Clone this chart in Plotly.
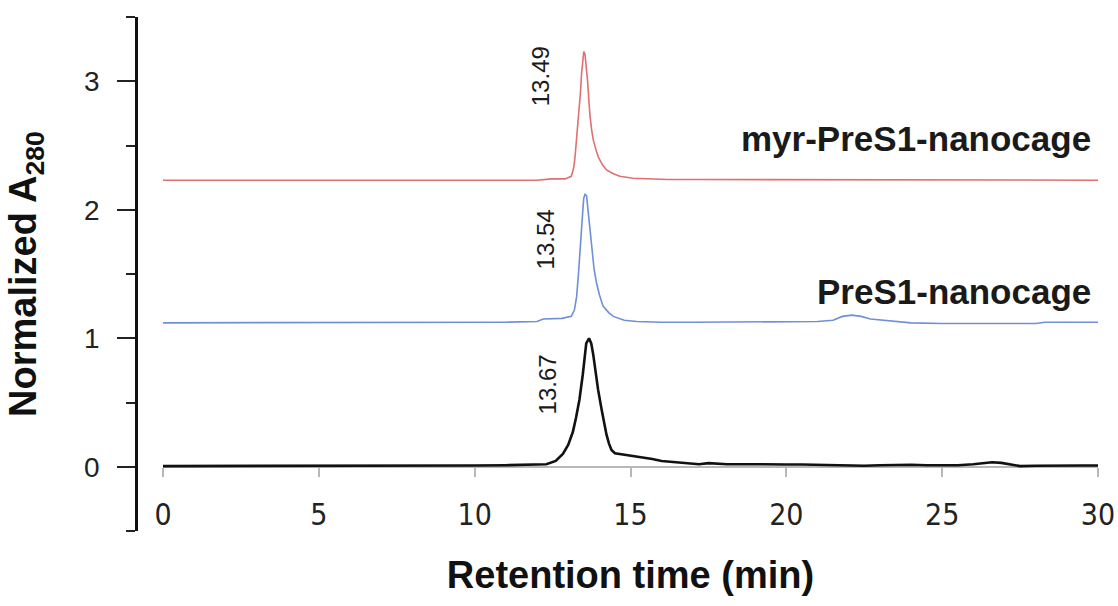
import plotly.graph_objects as go

# ---------------- data ----------------
t_ctrl = [0, 1, 2, 3, 4, 5, 6, 7, 8, 9, 10, 11,
          11.8, 12.3, 12.6, 12.83, 13.0, 13.15, 13.25, 13.36, 13.47, 13.53, 13.58, 13.67,
          13.74, 13.8, 13.86, 13.96, 14.07, 14.15, 14.23, 14.31, 14.39, 14.5, 14.8, 15.1,
          15.4, 15.7, 16.0, 16.3, 16.6, 16.9, 17.2, 17.5, 17.8, 18.1, 18.5,
          19, 19.5, 20, 20.5, 21, 21.5, 22, 22.5, 23, 23.5, 24, 24.5, 25, 25.5, 26,
          26.3, 26.6, 26.9, 27.2, 27.5, 28, 28.5, 29, 29.5, 30]
v_ctrl = [0.005, 0.005, 0.008, 0.008, 0.008, 0.008, 0.008, 0.008, 0.008, 0.01, 0.01, 0.012,
          0.015, 0.02, 0.045, 0.1, 0.17, 0.27, 0.38, 0.52, 0.72, 0.86, 0.96, 1.0,
          0.96, 0.88, 0.76, 0.6, 0.45, 0.34, 0.25, 0.18, 0.13, 0.105, 0.095, 0.085,
          0.075, 0.06, 0.045, 0.04, 0.035, 0.025, 0.02, 0.028, 0.022, 0.02, 0.02,
          0.018, 0.018, 0.018, 0.018, 0.015, 0.01, 0.008, 0.008, 0.012, 0.015, 0.015, 0.012, 0.01, 0.012, 0.02,
          0.03, 0.035, 0.03, 0.015, 0.005, 0.008, 0.01, 0.01, 0.01, 0.01]

t_pres1 = [0, 2, 4, 6, 8, 10, 11, 12,
           12.2, 12.8, 13.1, 13.2, 13.27, 13.33, 13.38, 13.42, 13.46, 13.5, 13.54, 13.59,
           13.65, 13.7, 13.75, 13.83, 13.91, 14.0, 14.12, 14.3, 14.45, 14.8, 15.2,
           16, 17, 18, 19, 20, 21,
           21.5, 21.8, 22.1, 22.4, 22.7, 23.1, 23.5,
           24, 25, 26, 27, 28, 28.3, 29, 30]
v_pres1 = [0.0, 0.0, 0.0, 0.005, 0.005, 0.005, 0.005, 0.01,
           0.03, 0.035, 0.05, 0.1, 0.2, 0.38, 0.53, 0.7, 0.84, 0.97, 1.0, 0.99,
           0.84, 0.7, 0.57, 0.42, 0.31, 0.22, 0.13, 0.08, 0.05, 0.02, 0.01,
           0.005, 0.005, 0.005, 0.005, 0.005, 0.01,
           0.02, 0.05, 0.06, 0.05, 0.03, 0.02, 0.01,
           0.0, -0.005, -0.005, -0.005, -0.005, 0.005, 0.005, 0.005]

t_myr = [0, 2, 4, 6, 8, 10, 11, 12,
         12.47, 12.9, 13.1, 13.18, 13.22, 13.28, 13.35, 13.4, 13.43, 13.47, 13.5, 13.54,
         13.58, 13.62, 13.66, 13.7, 13.76, 13.81, 13.9, 13.97, 14.1, 14.23, 14.45, 14.66,
         15.08, 15.6, 16.2,
         17, 18, 19, 20, 22, 24, 26, 28, 30]
v_myr = [0.0, 0.0, 0.0, 0.0, 0.0, 0.0, 0.0, 0.0,
         0.01, 0.01, 0.03, 0.1, 0.18, 0.35, 0.52, 0.7, 0.83, 0.95, 1.0, 0.98,
         0.9, 0.78, 0.64, 0.5, 0.38, 0.31, 0.23, 0.18, 0.12, 0.08, 0.05, 0.03,
         0.015, 0.01, 0.005,
         0.005, 0.005, 0.0, 0.0, 0.0, 0.0, 0.0, 0.0, 0.0]

series_names = ["control nanocage", "PreS1-nanocage", "myr-PreS1-nanocage"]
series_offsets = [0.0, 1.12, 2.23]
peak_labels = ["13.67", "13.54", "13.49"]
x_ticks = [0, 5, 10, 15, 20, 25, 30]

# ---------------- figure ----------------
fig = go.Figure()
series = [(t_ctrl, v_ctrl, "#111111", 2.6),
          (t_pres1, v_pres1, "#6f8fd8", 1.6),
          (t_myr, v_myr, "#e07070", 1.6)]
for (t, v, col, w), off, name in zip(series, series_offsets, series_names):
    fig.add_trace(go.Scatter(x=t, y=[val + off for val in v], mode="lines",
                             line=dict(color=col, width=w), name=name,
                             hoverinfo="skip"))

label_font = dict(family="Liberation Sans, Arial, sans-serif", size=35, color="#1a1a1a")
num_font = dict(family="Liberation Sans, Arial, sans-serif", size=24, color="#1a1a1a")

# series labels (right aligned)
for name, (xr, yc) in zip(series_names, [(30.3, 0.27), (29.84, 1.36), (29.84, 2.555)]):
    fig.add_annotation(x=xr, y=yc, text="<b>%s</b>" % name, showarrow=False,
                       xanchor="right", yanchor="middle", font=label_font)

# peak retention-time labels
for lab, (xc, yc) in zip(peak_labels, [(12.35, 0.64), (12.26, 1.77), (12.1, 3.04)]):
    fig.add_annotation(x=xc, y=yc, text=lab, textangle=-90, showarrow=False,
                       xanchor="center", yanchor="middle", font=num_font)

fig.update_layout(
    width=1118, height=606,
    margin=dict(l=136, r=20, t=17, b=75),
    plot_bgcolor="white", paper_bgcolor="white",
    showlegend=False,
    xaxis=dict(
        domain=[27 / 962, 1], range=[0, 30], anchor="free", position=0.125,
        showline=True, linecolor="#b8b8b8", linewidth=1.5,
        ticks="outside", ticklen=9, tickwidth=1.5, tickcolor="#b8b8b8",
        tickvals=x_ticks, ticktext=[str(v) for v in x_ticks],
        tickfont=dict(family="Liberation Sans Narrow, DejaVu Sans Condensed, Arial Narrow, sans-serif",
                      size=30, color="#222222"),
        ticklabelstandoff=12,
        showgrid=False, zeroline=False, layer="below traces", automargin=False,
        title=dict(text="<b>Retention time (min)</b>", standoff=30,
                   font=dict(family="Liberation Sans, Arial, sans-serif", size=38, color="#111111")),
    ),
    yaxis=dict(
        range=[-0.5, 3.5], anchor="free", position=0,
        showline=True, linecolor="#111111", linewidth=2.5,
        ticks="outside", ticklen=18, tickwidth=2, tickcolor="#222222",
        tick0=0, dtick=1,
        minor=dict(dtick=0.5, tick0=0, ticks="outside", ticklen=9, tickwidth=2, tickcolor="#222222"),
        tickfont=dict(family="Liberation Sans, Arial, sans-serif", size=28, color="#222222"),
        ticklabelstandoff=12,
        showgrid=False, zeroline=False, automargin=False,
        title=dict(text="<b>Normalized A<sub>280</sub></b>", standoff=34,
                   font=dict(family="Liberation Sans, Arial, sans-serif", size=38, color="#111111")),
    ),
)

fig.write_html("out.html")
